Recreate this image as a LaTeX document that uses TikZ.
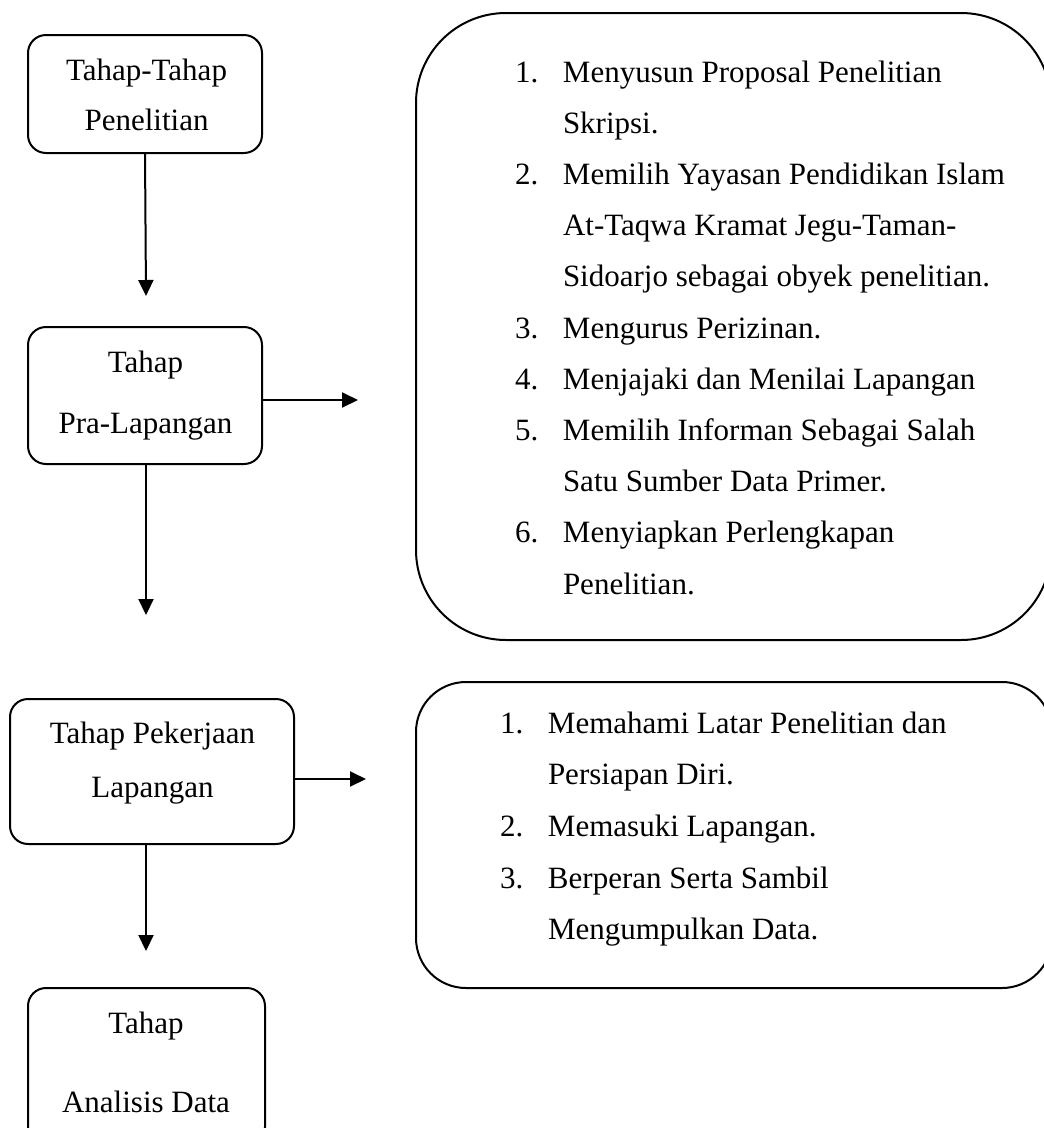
\documentclass[tikz,border=0pt]{standalone}
\usepackage{fontspec}
\setmainfont{Liberation Serif}
\usetikzlibrary{arrows.meta}
\begin{document}
\begin{tikzpicture}[x=1pt,y=-1pt,
  stage/.style={draw, line width=2pt, rounded corners=18pt, inner sep=0pt, outer sep=0pt},
  bigbox/.style={draw, line width=2pt, inner sep=0pt, outer sep=0pt},
  lbl/.style={inner sep=0pt, outer sep=0pt, anchor=base, font=\fontsize{31}{#1}\selectfont},
  lst/.style={inner sep=0pt, outer sep=0pt, anchor=base west, font=\fontsize{31}{#1}\selectfont},
  conn/.style={line width=2pt, -{Triangle[length=16pt,width=15pt]}}]
\useasboundingbox (0,0) rectangle (1044,1128);
\fill[white] (0,0) rectangle (1044,1128);

% stage boxes
\node[stage, minimum width=234pt, minimum height=118pt] (b1) at (145,94) {};
\node[stage, minimum width=234pt, minimum height=137pt] (b2) at (145,395.5) {};
\node[stage, minimum width=284pt, minimum height=145pt] (b3) at (152,771.5) {};
\node[stage, minimum width=237pt, minimum height=157pt] (b4) at (146.5,1066.5) {};

% detail boxes
\node[bigbox, rounded corners=90pt, minimum width=635pt, minimum height=627pt] (g1) at (733.5,326.5) {};
\node[bigbox, rounded corners=50pt, minimum width=636pt, minimum height=306pt] (g2) at (734,835) {};

% stage labels
\node[lbl=50pt] (t1) at (146.5,80) {\begin{tabular}[t]{@{}c@{}}Tahap-Tahap\\Penelitian\end{tabular}};
\node[lbl=61pt] (t2) at (145.5,372) {\begin{tabular}[t]{@{}c@{}}Tahap\\Pra-Lapangan\end{tabular}};
\node[lbl=54pt] (t3) at (152.5,743) {\begin{tabular}[t]{@{}c@{}}Tahap Pekerjaan\\Lapangan\end{tabular}};
\node[lbl=79pt] (t4) at (146,1033) {\begin{tabular}[t]{@{}c@{}}Tahap\\Analisis Data\end{tabular}};

% lists
\node[lst=51.2pt] (l1) at (515,82) {\begin{tabular}[t]{@{}p{48pt}@{}l@{}}
1. & Menyusun Proposal Penelitian\\
   & Skripsi.\\
2. & Memilih Yayasan Pendidikan Islam\\
   & At-Taqwa Kramat Jegu-Taman-\\
   & Sidoarjo sebagai obyek penelitian.\\
3. & Mengurus Perizinan.\\
4. & Menjajaki dan Menilai Lapangan\\
5. & Memilih Informan Sebagai Salah\\
   & Satu Sumber Data Primer.\\
6. & Menyiapkan Perlengkapan\\
   & Penelitian.
\end{tabular}};
\node[lst=51.7pt] (l2) at (500,733) {\begin{tabular}[t]{@{}p{48pt}@{}l@{}}
1. & Memahami Latar Penelitian dan\\
   & Persiapan Diri.\\
2. & Memasuki Lapangan.\\
3. & Berperan Serta Sambil\\
   & Mengumpulkan Data.
\end{tabular}};

% connectors
\coordinate (a1) at (146,296);
\draw[conn] (b1.south) -- (a1);
\coordinate (a2) at (358,400);
\draw[conn] (b2.east |- a2) -- (a2);
\coordinate (a3) at (146,615);
\draw[conn] (b2.south -| a3) -- (a3);
\coordinate (a4) at (366,779);
\draw[conn] (b3.east |- a4) -- (a4);
\coordinate (a5) at (146,951);
\draw[conn] (b3.south -| a5) -- (a5);
\end{tikzpicture}
\end{document}
